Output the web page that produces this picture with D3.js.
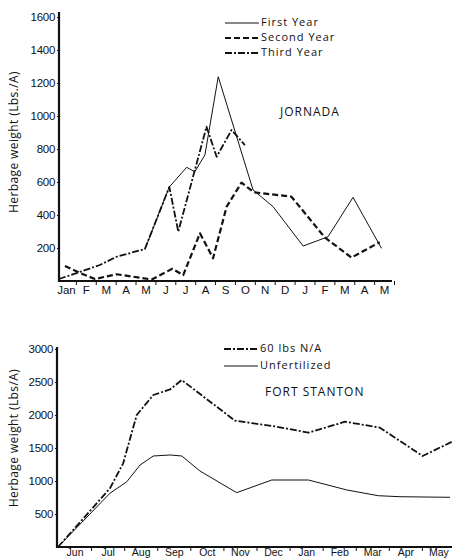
<!DOCTYPE html>
<html>
<head>
<meta charset="utf-8">
<script src="https://cdn.jsdelivr.net/npm/d3@7"></script>
<style>
  body { margin: 0; background: #fff; }
  svg { display: block; font-family: "Open Sans", sans-serif; }
</style>
</head>
<body>
<div id="chart"></div>
<script>
// Jornada (top panel)
const jornadaMonths = ["Jan", "F", "M", "A", "M", "J", "J", "A", "S", "O", "N", "D", "J", "F", "M", "A", "M"];
const jornadaTicks = [200, 400, 600, 800, 1000, 1200, 1400, 1600];
// [month position, lbs/A]
const firstYear = [[4.47, 192], [5.7, 570], [6.57, 689], [6.98, 662], [7.49, 764], [8.16, 1238], [9.91, 552], [10.92, 450], [12.43, 212], [13.68, 268], [14.94, 507], [16.37, 198]];
const secondYear = [[0.45, 91], [1.21, 48], [1.96, 12], [3.05, 41], [4.81, 9], [5.85, 74], [6.4, 36], [7.24, 289], [7.9, 138], [8.58, 450], [9.33, 596], [9.95, 538], [11.84, 511], [13.52, 264], [14.86, 142], [16.28, 235]];
const thirdYear = [[0.15, 12], [1.2, 55], [2.2, 97], [3.05, 147], [4.47, 194], [5.7, 570], [6.15, 299], [7.57, 935], [8.08, 753], [8.83, 915], [9.5, 824]];

// Fort Stanton (bottom panel)
const stantonMonths = ["Jun", "Jul", "Aug", "Sep", "Oct", "Nov", "Dec", "Jan", "Feb", "Mar", "Apr", "May"];
const stantonTicks = [500, 1000, 1500, 2000, 2500, 3000];
const fertilized = [[0, 0], [1.57, 889], [1.97, 1268], [2.38, 2000], [2.88, 2303], [3.39, 2389], [3.74, 2530], [5.35, 1914], [6.61, 1823], [7.57, 1732], [8.68, 1898], [9.73, 1808], [11.02, 1379], [11.91, 1595]];
const unfertilized = [[0, 0], [1.57, 814], [2.08, 989], [2.48, 1242], [2.88, 1379], [3.39, 1394], [3.74, 1379], [4.29, 1152], [5.4, 823], [6.46, 1015], [7.57, 1015], [8.73, 864], [9.68, 777], [10.34, 762], [11.85, 753]];

const ink = "#111";
const styles = {
  solid: { w: 1, dash: null },
  dashed: { w: 2.2, dash: "6,3" },
  dashdot: { w: 1.8, dash: "7,2,2,2" }
};

const svg = d3.select("#chart")
  .append("svg")
  .attr("width", 452)
  .attr("height", 560);

function panel(opts) {
  const x = d3.scaleLinear().domain([0, opts.months.length]).range(opts.xRange);
  const y = d3.scaleLinear().domain(opts.yDomain).range(opts.yRange);
  const g = svg.append("g");

  // axes
  const yAxis = g.append("g")
    .attr("transform", `translate(${opts.yAxisX},0)`)
    .call(d3.axisLeft(y).tickValues(opts.ticks).tickSize(2).tickPadding(2).tickFormat(d3.format("d")));
  yAxis.select(".domain").remove();
  yAxis.selectAll("line").attr("stroke", ink);
  yAxis.selectAll("text").attr("fill", ink).style("font-size", "11.5px").attr("letter-spacing", "-0.3");

  const base = opts.yRange[0];
  const xTicks = g.append("g")
    .attr("transform", `translate(0,${base})`)
    .call(d3.axisBottom(x).tickValues(d3.range(1, opts.months.length + 1)).tickSize(4).tickFormat(""));
  xTicks.select(".domain").remove();
  xTicks.selectAll("line").attr("stroke", ink);

  const xLabels = g.append("g")
    .attr("transform", `translate(0,${base})`)
    .call(d3.axisBottom(x)
      .tickValues(d3.range(opts.months.length).map(i => i + 0.5))
      .tickSize(0).tickPadding(opts.labelPad)
      .tickFormat((d, i) => opts.months[i]));
  xLabels.select(".domain").remove();
  xLabels.selectAll("text").attr("fill", ink).style("font-size", opts.labelSize);

  g.append("line")
    .attr("x1", opts.yAxisX).attr("x2", opts.xEnd)
    .attr("y1", base).attr("y2", base)
    .attr("stroke", ink).attr("stroke-width", 2.2);
  g.append("line")
    .attr("x1", opts.yAxisX).attr("x2", opts.yAxisX)
    .attr("y1", opts.yTop).attr("y2", base + 1)
    .attr("stroke", ink).attr("stroke-width", 2.2);

  // y label
  g.append("text")
    .attr("transform", `translate(15,${opts.yLabelY}) rotate(-90)`)
    .attr("text-anchor", "middle")
    .attr("dominant-baseline", "middle")
    .attr("fill", ink)
    .attr("letter-spacing", "0.4")
    .style("font-size", "12px")
    .text(opts.yLabel);

  const line = d3.line().x(d => x(d[0])).y(d => y(d[1]));

  opts.series.forEach(s => {
    const st = styles[s.style];
    g.append("path")
      .datum(s.data)
      .attr("d", line)
      .attr("fill", "none")
      .attr("stroke", ink)
      .attr("stroke-width", st.w)
      .attr("stroke-dasharray", st.dash)
      .attr("stroke-linejoin", "round");
  });

  // legend
  opts.series.forEach((s, i) => {
    const st = styles[s.style];
    const ly = opts.legendY + i * opts.legendGap;
    g.append("line")
      .attr("x1", opts.legendX).attr("x2", opts.legendX + 34)
      .attr("y1", ly).attr("y2", ly)
      .attr("stroke", ink)
      .attr("stroke-width", st.w)
      .attr("stroke-dasharray", st.dash);
    g.append("text")
      .attr("x", opts.legendX + 36)
      .attr("y", ly)
      .attr("dominant-baseline", "middle")
      .attr("fill", ink)
      .attr("letter-spacing", "1")
      .style("font-size", "11px")
      .text(s.name);
  });

  g.append("text")
    .attr("x", opts.titleX)
    .attr("y", opts.titleY)
    .attr("dominant-baseline", "middle")
    .attr("fill", ink)
    .attr("letter-spacing", "1")
    .style("font-size", "12px")
    .text(opts.title);
}

panel({
  months: jornadaMonths,
  ticks: jornadaTicks,
  xRange: [56, 394],
  xEnd: 392,
  yDomain: [0, 1600],
  yRange: [281, 17],
  yTop: 12,
  yAxisX: 59,
  labelPad: 5,
  labelSize: "11.5px",
  yLabel: "Herbage weight (Lbs./A)",
  yLabelY: 142,
  series: [
    { name: "First Year", style: "solid", data: firstYear },
    { name: "Second Year", style: "dashed", data: secondYear },
    { name: "Third Year", style: "dashdot", data: thirdYear }
  ],
  legendX: 225,
  legendY: 23,
  legendGap: 15,
  title: "JORNADA",
  titleX: 280,
  titleY: 113
});

panel({
  months: stantonMonths,
  ticks: stantonTicks,
  xRange: [58, 455],
  xEnd: 452,
  yDomain: [0, 3000],
  yRange: [547, 349],
  yTop: 347,
  yAxisX: 57,
  labelPad: 2,
  labelSize: "10.5px",
  yLabel: "Herbage weight (Lbs/A)",
  yLabelY: 438,
  series: [
    { name: "60 lbs N/A", style: "dashdot", data: fertilized },
    { name: "Unfertilized", style: "solid", data: unfertilized }
  ],
  legendX: 224,
  legendY: 349,
  legendGap: 17,
  title: "FORT STANTON",
  titleX: 265,
  titleY: 393
});
</script>
</body>
</html>
